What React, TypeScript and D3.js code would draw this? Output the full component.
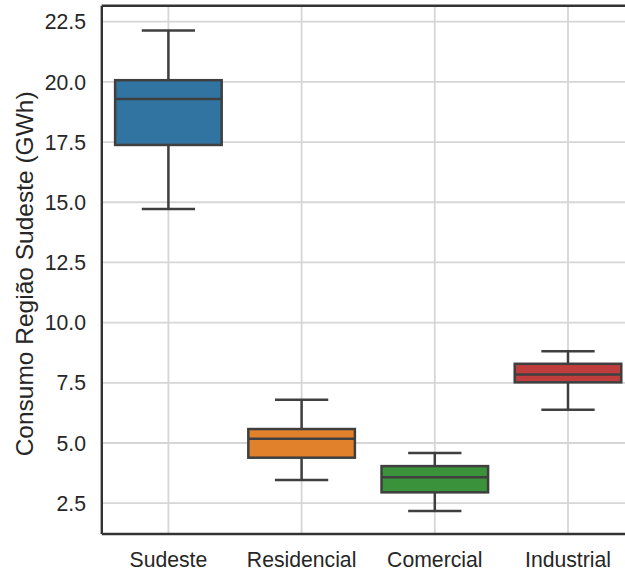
import React, { useEffect } from "react";
import * as d3 from "d3";

const categories = ["Sudeste", "Residencial", "Comercial", "Industrial"];
const whiskerLow = [14.72, 3.46, 2.18, 6.38];
const q1 = [17.38, 4.39, 2.95, 7.52];
const median = [19.29, 5.18, 3.58, 7.85];
const q3 = [20.07, 5.58, 4.04, 8.29];
const whiskerHigh = [22.13, 6.8, 4.58, 8.81];
const colors = ["#3274a1", "#e1812c", "#3a923a", "#c03d3e"];
const yTicks = [2.5, 5.0, 7.5, 10.0, 12.5, 15.0, 17.5, 20.0, 22.5];
const yLabel = "Consumo Região Sudeste (GWh)";

const W = 625;
const H = 574;
const left = 101.8;
const top = 5.8;
const bottom = 534;
const band = 133.2;

export default function App() {
  useEffect(() => {
    document.body.style.margin = "0";
  }, []);

  const x = d3
    .scaleBand<string>()
    .domain(categories)
    .range([left, left + band * categories.length])
    .padding(0);
  const y = d3.scaleLinear().domain([1.22, 23.16]).range([bottom, top]);

  const bw = x.bandwidth() * 0.8;
  const capW = bw / 2;
  const lineC = "#3f3f3f";
  const font = "'Liberation Sans', Arial, sans-serif";
  const right = left + band * categories.length;

  return (
    <svg
      width={W}
      height={H}
      style={{ position: "absolute", left: 0, top: 0, display: "block" }}
      fontFamily={font}
    >
      <rect x={0} y={0} width={W} height={H} fill="#ffffff" />
      <g>
        {yTicks.map((t) => (
          <line
            key={"gy" + t}
            x1={left}
            x2={right}
            y1={y(t)}
            y2={y(t)}
            stroke="#d6d6d6"
            strokeWidth={1.8}
          />
        ))}
        {categories.map((c) => (
          <line
            key={"gx" + c}
            x1={x(c)! + x.bandwidth() / 2}
            x2={x(c)! + x.bandwidth() / 2}
            y1={top}
            y2={bottom}
            stroke="#d6d6d6"
            strokeWidth={1.8}
          />
        ))}
      </g>
      {categories.map((c, i) => {
        const cx = x(c)! + x.bandwidth() / 2;
        return (
          <g key={c}>
            <line x1={cx} x2={cx} y1={y(q3[i])} y2={y(whiskerHigh[i])} stroke={lineC} strokeWidth={2.5} />
            <line x1={cx} x2={cx} y1={y(q1[i])} y2={y(whiskerLow[i])} stroke={lineC} strokeWidth={2.5} />
            <line x1={cx - capW / 2} x2={cx + capW / 2} y1={y(whiskerHigh[i])} y2={y(whiskerHigh[i])} stroke={lineC} strokeWidth={2.5} />
            <line x1={cx - capW / 2} x2={cx + capW / 2} y1={y(whiskerLow[i])} y2={y(whiskerLow[i])} stroke={lineC} strokeWidth={2.5} />
            <rect
              x={cx - bw / 2}
              y={y(q3[i])}
              width={bw}
              height={y(q1[i]) - y(q3[i])}
              fill={colors[i]}
              stroke={lineC}
              strokeWidth={2.5}
            />
            <line x1={cx - bw / 2} x2={cx + bw / 2} y1={y(median[i])} y2={y(median[i])} stroke={lineC} strokeWidth={2.5} />
          </g>
        );
      })}
      {/* spines */}
      <line x1={left} x2={left} y1={top} y2={bottom} stroke="#333333" strokeWidth={2.4} />
      <line x1={left} x2={right} y1={bottom} y2={bottom} stroke="#333333" strokeWidth={2.4} />
      <line x1={left} x2={right} y1={top} y2={top} stroke="#333333" strokeWidth={2.4} />
      <line x1={right} x2={right} y1={top} y2={bottom} stroke="#333333" strokeWidth={2.4} />
      {yTicks.map((t) => (
        <text
          key={"ty" + t}
          x={86}
          y={y(t)}
          dy="0.36em"
          textAnchor="end"
          fontSize={21.2}
          fill="#262626"
        >
          {t.toFixed(1)}
        </text>
      ))}
      {categories.map((c) => (
        <text
          key={"tx" + c}
          x={x(c)! + x.bandwidth() / 2}
          y={566.5}
          textAnchor="middle"
          fontSize={21.2}
          fill="#262626"
        >
          {c}
        </text>
      ))}
      <text
        transform={`translate(33, ${(top + bottom) / 2 + 4}) rotate(-90)`}
        textAnchor="middle"
        fontSize={24.5}
        fill="#262626"
      >
        {yLabel}
      </text>
    </svg>
  );
}
